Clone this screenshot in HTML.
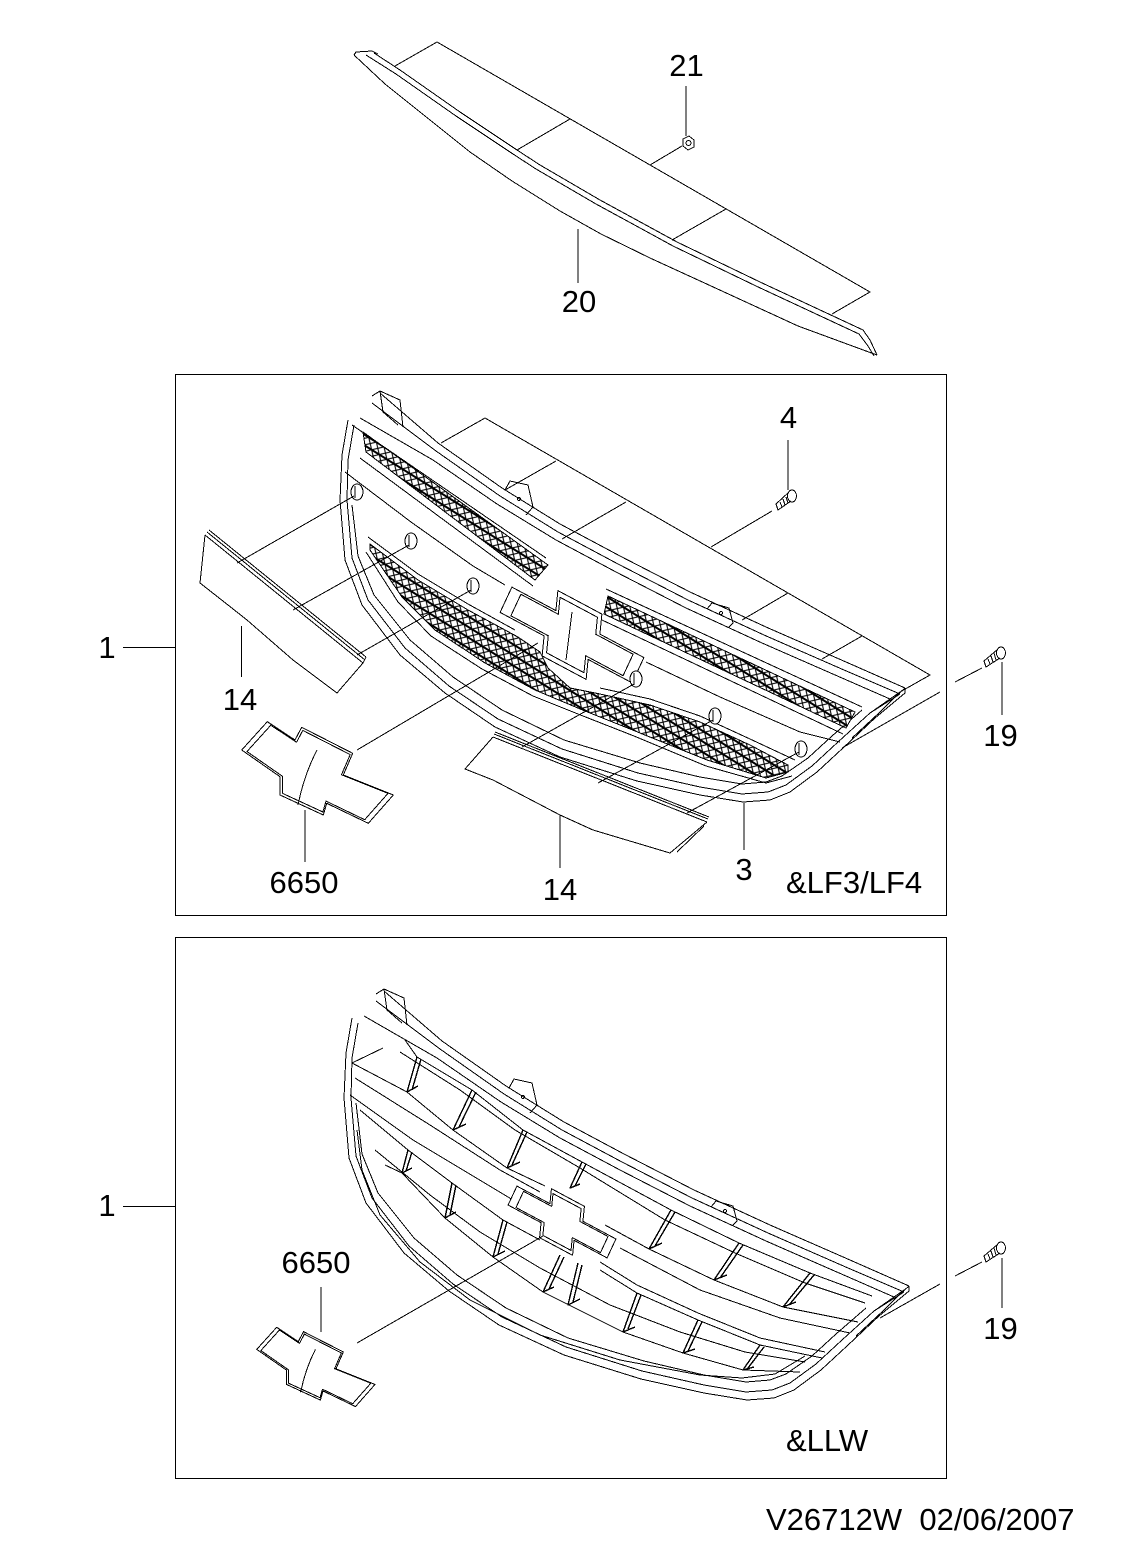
<!DOCTYPE html>
<html><head><meta charset="utf-8">
<style>
html,body{margin:0;padding:0;background:#fff;}
svg{display:block;}
text{font-family:"Liberation Sans",Arial,sans-serif;font-size:31px;fill:#000;}
</style></head><body>
<svg width="1124" height="1566" viewBox="0 0 1124 1566" xmlns="http://www.w3.org/2000/svg">
<defs>
<pattern id="mesh" width="9" height="9" patternUnits="userSpaceOnUse" patternTransform="rotate(32)">
<rect width="9" height="9" fill="#fff"/>
<path d="M0,0L9,9M9,0L0,9" stroke="#000" stroke-width="1.1" fill="none"/>
<path d="M0,4.5H9" stroke="#000" stroke-width="2" fill="none"/>
</pattern>
</defs>

<g fill="none" stroke="#000" stroke-width="1" stroke-linejoin="round" shape-rendering="crispEdges">
<!-- ============ PART 20 STRIP ============ -->
<path d="M354,55 L356,52 L372,51 L378,54"/>
<path d="M374,53 L400,70 L460,112 L517,150 L540,165 L600,200 L677,242 L760,282 L863,330 L870,340 L877,355"/>
<path d="M366,55 L396,74 L456,116 L513,154 L536,169 L596,204 L673,246 L756,286 L859,334 L868,346 L874,356"/>
<path d="M354,55 L385,84 L430,120 L470,152 L512,181 L560,211 L601,234 L650,258 L698,280 L798,326 L866,351 L877,355"/>
<path d="M395,66 L437,42 L870,292 L832,314"/>
<path d="M570,119 L517,150"/>
<path d="M726,209 L672,240"/>
<path d="M650,165 L682,146"/>
<polygon points="683,139 689,136 694,140 694,147 688,150 683,146"/>
<circle cx="688.5" cy="143" r="2.5"/>
<path d="M686,86 L686,136"/>
<path d="M578,229 L578,283"/>

<!-- ============ BOX 1 ============ -->
<rect x="175.5" y="374.5" width="771" height="541"/>
<path d="M123,647.5 L175,647.5"/>

<!-- phantom plane -->
<path d="M441,443 L485,418 L930,675 L900,692"/>
<path d="M556,461 L505,490"/>
<path d="M626,502 L562,539"/>
<path d="M772,511 L711,547"/>
<path d="M788,593 L742,620"/>
<path d="M862,636 L822,659"/>

<!-- grille frame -->
<path d="M372,396 L380,391 L400,400 L403,427 M380,391 L383,412 L398,425"/>
<path d="M380,393 L438,443 L502,488 L560,524 L620,556 L690,592 L766,627 L846,662 L905,688"/>
<path d="M372,403 L436,451 L500,496 L558,532 L618,564 L688,600 L764,635 L844,670 L900,694"/>
<path d="M360,418 L433,460 L497,504 L556,540 L616,572 L686,608 L762,643 L842,678 L890,699"/>
<path d="M348,420 L342,455 L340,500 L345,560 L362,605 L400,655 L445,693 L495,727 L560,757 L637,781 L700,795 L743,802 L770,800 L790,792 L817,772 L843,748 L875,718 L905,693 L905,688"/>
<path d="M354,425 L348,460 L347,500 L352,558 L368,600 L405,648 L449,686 L498,719 L562,749 L638,773 L700,787 L742,794 L768,792 L786,785 L812,766 L838,742 L870,713 L900,692"/>
<path d="M352,505 L358,556 L374,595 L410,640 L453,677 L502,710 L564,740 L640,763 L700,777 L742,784 L766,782 L782,776 L808,758 L832,736 L862,710"/>
<path d="M905,688 L895,697 L880,712 L852,738 M900,694 L870,713"/>

<!-- tabs -->
<path d="M505,490 L510,481 L528,485 L533,507 L526,515"/>
<circle cx="519" cy="499" r="1.5"/>
<path d="M707,609 L712,603 L729,608 L733,623 L728,628"/>
<circle cx="721" cy="613" r="1.5"/>

<!-- mesh frames -->
<path d="M352,425 L546,558 M606,589 L862,707"/>
<path d="M360,458 L533,586 M602,620 L843,734"/>
<path d="M345,472 L411,522 L473,566 L505,585 M646,662 L720,697 L800,732 L840,742"/>
<path d="M368,537 L418,574 L468,604 L515,630 M600,688 L650,699 L700,716 L750,739 L795,760"/>
<path d="M366,552 L398,602 L431,636 L482,669 L533,696 L583,716 L634,736 L706,766 L766,783 L792,776"/>

<!-- meshes -->
<polygon fill="url(#mesh)" points="363,432 548,565 535,580 366,452"/>
<polygon fill="url(#mesh)" points="608,596 855,712 846,728 604,614"/>
<polygon fill="url(#mesh)" points="370,544 418,580 468,610 518,637 540,652 548,668 570,688 600,694 650,705 700,722 750,745 788,765 788,772 766,778 707,760 635,731 585,711 535,690 485,663 435,630 402,597 370,550"/>

<!-- bowtie recess box 1 -->
<polygon fill="#fff" points="511.9,587.1 555.9,610.6 557.9,590.6 601.9,614.1 599.9,634.1 643.9,657.6 632.1,682.9 588.1,659.4 586.1,679.4 542.1,655.9 544.1,635.9 500.1,612.4"/>
<g transform="translate(572,635) scale(0.85) translate(-572,-635)">
<polygon vector-effect="non-scaling-stroke" points="511.9,587.1 555.9,610.6 557.9,590.6 601.9,614.1 599.9,634.1 643.9,657.6 632.1,682.9 588.1,659.4 586.1,679.4 542.1,655.9 544.1,635.9 500.1,612.4"/>
</g>
<path d="M572,612 L566,660"/>

<!-- holes -->
<g fill="#fff">
<ellipse cx="357" cy="492" rx="6" ry="8"/>
<ellipse cx="411" cy="541" rx="6" ry="8"/>
<ellipse cx="473" cy="586" rx="6" ry="8"/>
<ellipse cx="636" cy="679" rx="6" ry="8"/>
<ellipse cx="715" cy="716" rx="6" ry="8"/>
<ellipse cx="801" cy="749" rx="6" ry="8"/>
</g>
<path d="M355,486 L355,498 M409,535 L409,547 M471,580 L471,592 M634,673 L634,685 M713,710 L713,722 M799,743 L799,755"/>

<!-- leaders to holes -->
<path d="M237,563 L354,496"/>
<path d="M293,610 L409,545"/>
<path d="M357,655 L471,590"/>
<path d="M522,747 L634,684"/>
<path d="M598,783 L713,720"/>
<path d="M687,813 L799,752"/>
<path d="M357,750 L538,643"/>

<!-- part 14 left -->
<path d="M205,535 L200,583 L228,605 L247,620 L293,660 L337,693 L363,663"/>
<path d="M205,535 L363,663 M207,532 L365,660 M209,530 L366,657 M363,663 L366,657"/>
<path d="M241.5,626 L241.5,677"/>

<!-- emblem 6650 box 1 -->
<polygon points="241.7,750 280,776.7 280,795 323.3,815 326.7,803.3 368.3,823.3 393.3,795 343.3,775 352.7,753.3 301.7,727.3 295,740 267.3,721.7"/>
<g transform="translate(317,772) scale(0.93) translate(-317,-772)">
<polygon vector-effect="non-scaling-stroke" points="241.7,750 280,776.7 280,795 323.3,815 326.7,803.3 368.3,823.3 393.3,795 343.3,775 352.7,753.3 301.7,727.3 295,740 267.3,721.7"/>
</g>
<path d="M317,750 Q304,775 298,805"/>
<path d="M305,810 L305,862"/>

<!-- part 14 lower -->
<path d="M493,737 L465,769 L493,780 L560,815 L593,830 L670,853 L707,822"/>
<path d="M493,737 L707,822 M494,734 L708,819 M495,732 L709,817"/>
<path d="M704,826 L677,852"/>
<path d="M560,815 L560,868"/>
<path d="M744,803 L744,850"/>

<!-- screw 4 -->
<ellipse cx="792" cy="496" rx="4.5" ry="6"/>
<path d="M789,492 L776,504 L778,510 L791,501 M780,502 L782,507 M783,499 L785,505 M786,497 L788,503"/>
<path d="M788,440 L788,490"/>

<!-- screw 19 box1 -->
<ellipse cx="1001" cy="653" rx="4.5" ry="6"/>
<path d="M998,649 L984,661 L986,667 L1000,658 M988,659 L990,664 M991,656 L993,662 M994,653 L996,660"/>
<path d="M1002,662 L1002,715"/>
<path d="M982,668 L955,682 M940,692 L842,748"/>

<!-- ============ BOX 2 ============ -->
<rect x="175.5" y="937.5" width="771" height="541"/>
<path d="M123,1206.5 L175,1206.5"/>

<g transform="translate(4,598)">
<path d="M372,396 L380,391 L400,400 L403,427 M380,391 L383,412 L398,425"/>
<path d="M380,393 L438,443 L502,488 L560,524 L620,556 L690,592 L766,627 L846,662 L905,688"/>
<path d="M372,403 L436,451 L500,496 L558,532 L618,564 L688,600 L764,635 L844,670 L900,694"/>
<path d="M360,418 L433,460 L497,504 L556,540 L616,572 L686,608 L762,643 L842,678 L890,699"/>
<path d="M348,420 L342,455 L340,500 L345,560 L362,605 L400,655 L445,693 L495,727 L560,757 L637,781 L700,795 L743,802 L770,800 L790,792 L817,772 L843,748 L875,718 L905,693 L905,688"/>
<path d="M354,425 L348,460 L347,500 L352,558 L368,600 L405,648 L449,686 L498,719 L562,749 L638,773 L700,787 L742,794 L768,792 L786,785 L812,766 L838,742 L870,713 L900,692"/>
<path d="M352,505 L358,556 L374,595 L410,640 L453,677 L502,710 L564,740 L640,763 L700,777 L742,784 L766,782 L782,776 L808,758 L832,736 L862,710"/>
<path d="M905,688 L895,697 L880,712 L852,738 M900,694 L870,713"/>
<path d="M505,490 L510,481 L528,485 L533,507 L526,515"/>
<circle cx="519" cy="499" r="1.5"/>
<path d="M707,609 L712,603 L729,608 L733,623 L728,628"/>
<circle cx="721" cy="613" r="1.5"/>
</g>
<path d="M357,1130 L362,1170 L380,1215 L420,1262 L470,1300 L540,1335 L620,1360 L700,1375 L742,1378 L775,1374 L805,1356"/>

<!-- box 2 slat structure -->
<path d="M405,1040 L417,1057 L472,1090 L523,1130 L582,1162 L671,1210 L739,1243 L810,1273 L872,1296"/>
<path d="M400,1052 L460,1090 L515,1130 L580,1168 L665,1220 L735,1253 L805,1283 L865,1303"/>
<path d="M352,1063 L383,1048 M352,1063 L407,1092 L453,1130 L507,1168 L545,1186 M605,1225 L649,1249 L714,1280 L783,1307 L858,1322"/>
<path d="M355,1078 L430,1125 L500,1170 L540,1192 M620,1248 L700,1290 L780,1318 L850,1333"/>
<path d="M350,1095 L413,1140 L513,1200 L540,1210 M600,1262 L637,1285 L698,1313 L760,1338 L825,1352"/>
<path d="M360,1110 L408,1150 L452,1183 L503,1220 L540,1240 M600,1270 L637,1293 L698,1320 L760,1345 L822,1358"/>
<path d="M375,1150 L430,1195 L480,1232 L540,1268 L610,1305 L680,1332 L745,1352 L805,1362"/>
<path d="M385,1165 L402,1173 L445,1218 L493,1257 L543,1292 L623,1332 L683,1353 L743,1370 L800,1372"/>

<!-- fins -->
<g stroke-width="1.4">
<path d="M417,1057 L407,1092 L418,1086 M421,1059 L412,1090"/>
<path d="M472,1090 L453,1130 L466,1124 M476,1092 L459,1127"/>
<path d="M523,1130 L507,1168 L520,1162 M527,1132 L512,1165"/>
<path d="M582,1162 L570,1188 L580,1184 M586,1164 L575,1186"/>
<path d="M671,1210 L649,1249 L662,1243 M675,1212 L655,1246"/>
<path d="M739,1243 L714,1280 L727,1275 M743,1245 L720,1278"/>
<path d="M810,1273 L783,1307 L796,1302 M814,1275 L789,1305"/>
<path d="M408,1150 L402,1173 L412,1168 M412,1152 L406,1171"/>
<path d="M452,1183 L445,1218 L456,1212 M456,1185 L450,1215"/>
<path d="M503,1220 L493,1257 L505,1251 M507,1222 L498,1254"/>
<path d="M560,1255 L543,1292 L554,1287 M564,1257 L549,1289"/>
<path d="M578,1263 L568,1305 L580,1299 M582,1265 L573,1302"/>
<path d="M637,1293 L623,1332 L635,1327 M641,1295 L628,1329"/>
<path d="M698,1320 L683,1353 L695,1349 M702,1322 L688,1351"/>
<path d="M760,1345 L743,1370 L754,1367 M764,1347 L748,1368"/>
</g>

<!-- bowtie box 2 -->
<g transform="translate(562,1222) scale(0.75) translate(-572,-635)">
<polygon fill="#fff" vector-effect="non-scaling-stroke" points="511.9,587.1 555.9,610.6 557.9,590.6 601.9,614.1 599.9,634.1 643.9,657.6 632.1,682.9 588.1,659.4 586.1,679.4 542.1,655.9 544.1,635.9 500.1,612.4"/>
</g>
<g transform="translate(562,1222) scale(0.64) translate(-572,-635)">
<polygon vector-effect="non-scaling-stroke" points="511.9,587.1 555.9,610.6 557.9,590.6 601.9,614.1 599.9,634.1 643.9,657.6 632.1,682.9 588.1,659.4 586.1,679.4 542.1,655.9 544.1,635.9 500.1,612.4"/>
</g>

<!-- emblem box 2 -->
<g transform="translate(276.7,1327.3) scale(0.78) translate(-267.3,-721.7)">
<polygon vector-effect="non-scaling-stroke" points="241.7,750 280,776.7 280,795 323.3,815 326.7,803.3 368.3,823.3 393.3,795 343.3,775 352.7,753.3 301.7,727.3 295,740 267.3,721.7"/>
<g transform="translate(317,772) scale(0.93) translate(-317,-772)">
<polygon vector-effect="non-scaling-stroke" points="241.7,750 280,776.7 280,795 323.3,815 326.7,803.3 368.3,823.3 393.3,795 343.3,775 352.7,753.3 301.7,727.3 295,740 267.3,721.7"/>
</g>
<path vector-effect="non-scaling-stroke" d="M317,750 Q304,775 298,805"/>
</g>
<path d="M321,1287 L321,1332"/>
<path d="M357,1343 L543,1236"/>

<!-- screw 19 box2 -->
<ellipse cx="1001" cy="1248" rx="4.5" ry="6"/>
<path d="M998,1244 L984,1256 L986,1262 L1000,1253 M988,1254 L990,1259 M991,1251 L993,1257 M994,1248 L996,1255"/>
<path d="M1002,1258 L1002,1308"/>
<path d="M982,1262 L955,1276 M940,1284 L880,1318"/>
</g>

<!-- ============ LABELS ============ -->
<text x="686.5" y="76" text-anchor="middle">21</text>
<text x="579" y="312" text-anchor="middle">20</text>
<text x="788.5" y="428" text-anchor="middle">4</text>
<text x="107" y="658" text-anchor="middle">1</text>
<text x="240" y="710" text-anchor="middle">14</text>
<text x="1000.5" y="746" text-anchor="middle">19</text>
<text x="304" y="893" text-anchor="middle">6650</text>
<text x="560" y="900" text-anchor="middle">14</text>
<text x="744" y="880" text-anchor="middle">3</text>
<text x="786" y="893">&amp;LF3/LF4</text>
<text x="107" y="1216" text-anchor="middle">1</text>
<text x="316" y="1273" text-anchor="middle">6650</text>
<text x="1000.5" y="1339" text-anchor="middle">19</text>
<text x="786" y="1451">&amp;LLW</text>
<text x="766" y="1530" xml:space="preserve">V26712W  02/06/2007</text>
</svg>
</body></html>
